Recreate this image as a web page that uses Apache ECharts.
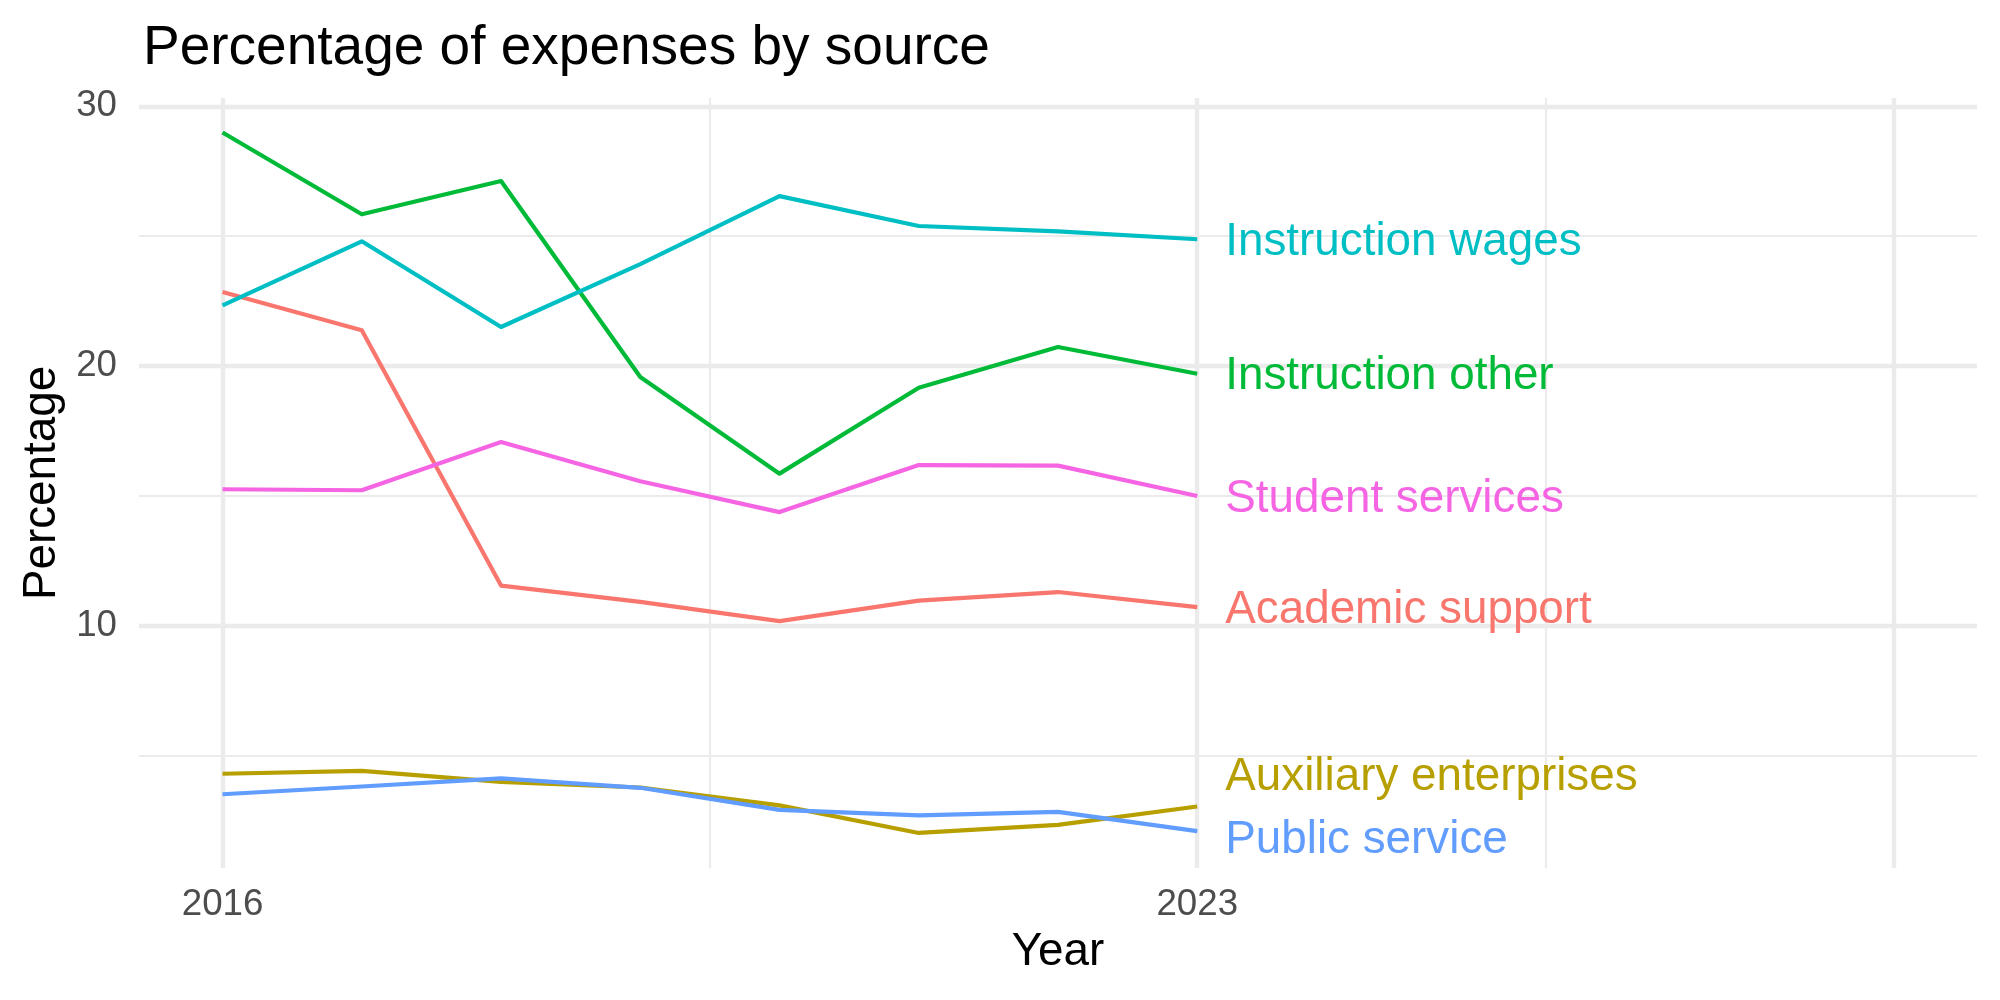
<!DOCTYPE html>
<html>
<head>
<meta charset="utf-8">
<title>Percentage of expenses by source</title>
<script src="https://cdn.jsdelivr.net/npm/echarts@6/dist/echarts.min.js"></script>
<style>
    html, body { margin: 0; padding: 0; background: #fff; }
    #chart { width: 2000px; height: 1000px; }
</style>
</head>
<body>
<div id="chart"></div>
<script>
// data
const years = [2016, 2017, 2018, 2019, 2020, 2021, 2022, 2023];
const seriesNames = ['Academic support', 'Auxiliary enterprises', 'Instruction other',
    'Instruction wages', 'Public service', 'Student services'];
const academicSupport = [22.85, 21.37, 11.54, 10.91, 10.17, 10.96, 11.29, 10.71];
const auxiliaryEnterprises = [4.29, 4.40, 3.98, 3.76, 3.07, 2.01, 2.32, 3.03];
const instructionOther = [28.99, 25.84, 27.12, 19.57, 15.85, 19.16, 20.73, 19.70];
const instructionWages = [22.33, 24.80, 21.50, 23.92, 26.54, 25.39, 25.18, 24.88];
const publicService = [3.50, 3.80, 4.11, 3.75, 2.90, 2.69, 2.82, 2.08];
const studentServices = [15.25, 15.21, 17.07, 15.56, 14.37, 16.18, 16.16, 14.99];
const xTickLabels = [2016, 2023];
const yTickLabels = [10, 20, 30];

// ggplot hue palette + grid
const colors = ['#F8766D', '#B79F00', '#00BA38', '#00BFC4', '#619CFF', '#F564E3'];
const labelNudge = [0, -32, 0, 0, 6, 0]; // repelled end labels (px)
const xMajor = [2016, 2023, 2028];
const xMinor = [2019.5, 2025.5];
const yMajor = [10, 20, 30];
const yMinor = [5, 15, 25];

const FONT = '"Liberation Sans", Arial, sans-serif';
const GRID_COLOR = '#EBEBEB';

const values = [academicSupport, auxiliaryEnterprises, instructionOther,
    instructionWages, publicService, studentServices];

const chart = echarts.init(document.getElementById('chart'), null, { renderer: 'canvas' });

// grid lines drawn as markLines so major/minor widths match the original
const gridLines = [];
xMajor.forEach(v => gridLines.push({ xAxis: v, lineStyle: { width: 4.4 } }));
xMinor.forEach(v => gridLines.push({ xAxis: v, lineStyle: { width: 2.2 } }));
yMajor.forEach(v => gridLines.push({ yAxis: v, lineStyle: { width: 4.4 } }));
yMinor.forEach(v => gridLines.push({ yAxis: v, lineStyle: { width: 2.2 } }));

const series = [{
    type: 'line',
    data: [],
    z: 1,
    silent: true,
    markLine: {
        z: 1,
        silent: true,
        symbol: ['none', 'none'],
        label: { show: false },
        lineStyle: { color: GRID_COLOR, type: 'solid' },
        emphasis: { disabled: true },
        animation: false,
        data: gridLines
    }
}];

seriesNames.forEach((name, i) => {
    series.push({
        name: name,
        type: 'line',
        z: 10,
        data: years.map((y, j) => [y, values[i][j]]),
        showSymbol: false,
        symbol: 'none',
        color: colors[i],
        lineStyle: { width: 4.2, color: colors[i], join: 'round', cap: 'butt' },
        emphasis: { disabled: true },
        endLabel: {
            show: true,
            formatter: name,
            color: colors[i],
            fontSize: 45.8,
            fontFamily: FONT,
            distance: 28,
            // +3 matches ggplot's text centring
            offset: [0, labelNudge[i] + 3]
        }
    });
});

chart.setOption({
    animation: false,
    backgroundColor: '#fff',
    title: {
        text: 'Percentage of expenses by source',
        left: 138,
        top: 16,
        textStyle: { fontFamily: FONT, fontSize: 55, fontWeight: 'normal', color: '#000' }
    },
    grid: { left: 139, right: 23, top: 98, bottom: 132, containLabel: false },
    xAxis: {
        type: 'value',
        min: 2015.4,
        max: 2028.6,
        name: 'Year',
        nameLocation: 'middle',
        nameGap: 61,
        nameTextStyle: { fontFamily: FONT, fontSize: 45.8, color: '#000' },
        axisLine: { show: false },
        axisTick: { show: false },
        splitLine: { show: false },
        axisLabel: {
            customValues: xTickLabels,
            margin: 18,
            fontFamily: FONT,
            fontSize: 36.7,
            color: '#4D4D4D',
            formatter: v => String(v)
        }
    },
    yAxis: {
        type: 'value',
        min: 0.66,
        max: 30.32,
        name: 'Percentage',
        nameLocation: 'middle',
        nameRotate: 90,
        nameGap: 72,
        nameTextStyle: { fontFamily: FONT, fontSize: 45.8, color: '#000' },
        axisLine: { show: false },
        axisTick: { show: false },
        splitLine: { show: false },
        axisLabel: {
            customValues: yTickLabels,
            margin: 22,
            fontFamily: FONT,
            fontSize: 36.7,
            color: '#4D4D4D',
            padding: [4, 0, 0, 0],
            formatter: v => String(v)
        }
    },
    series: series
});
</script>
</body>
</html>
